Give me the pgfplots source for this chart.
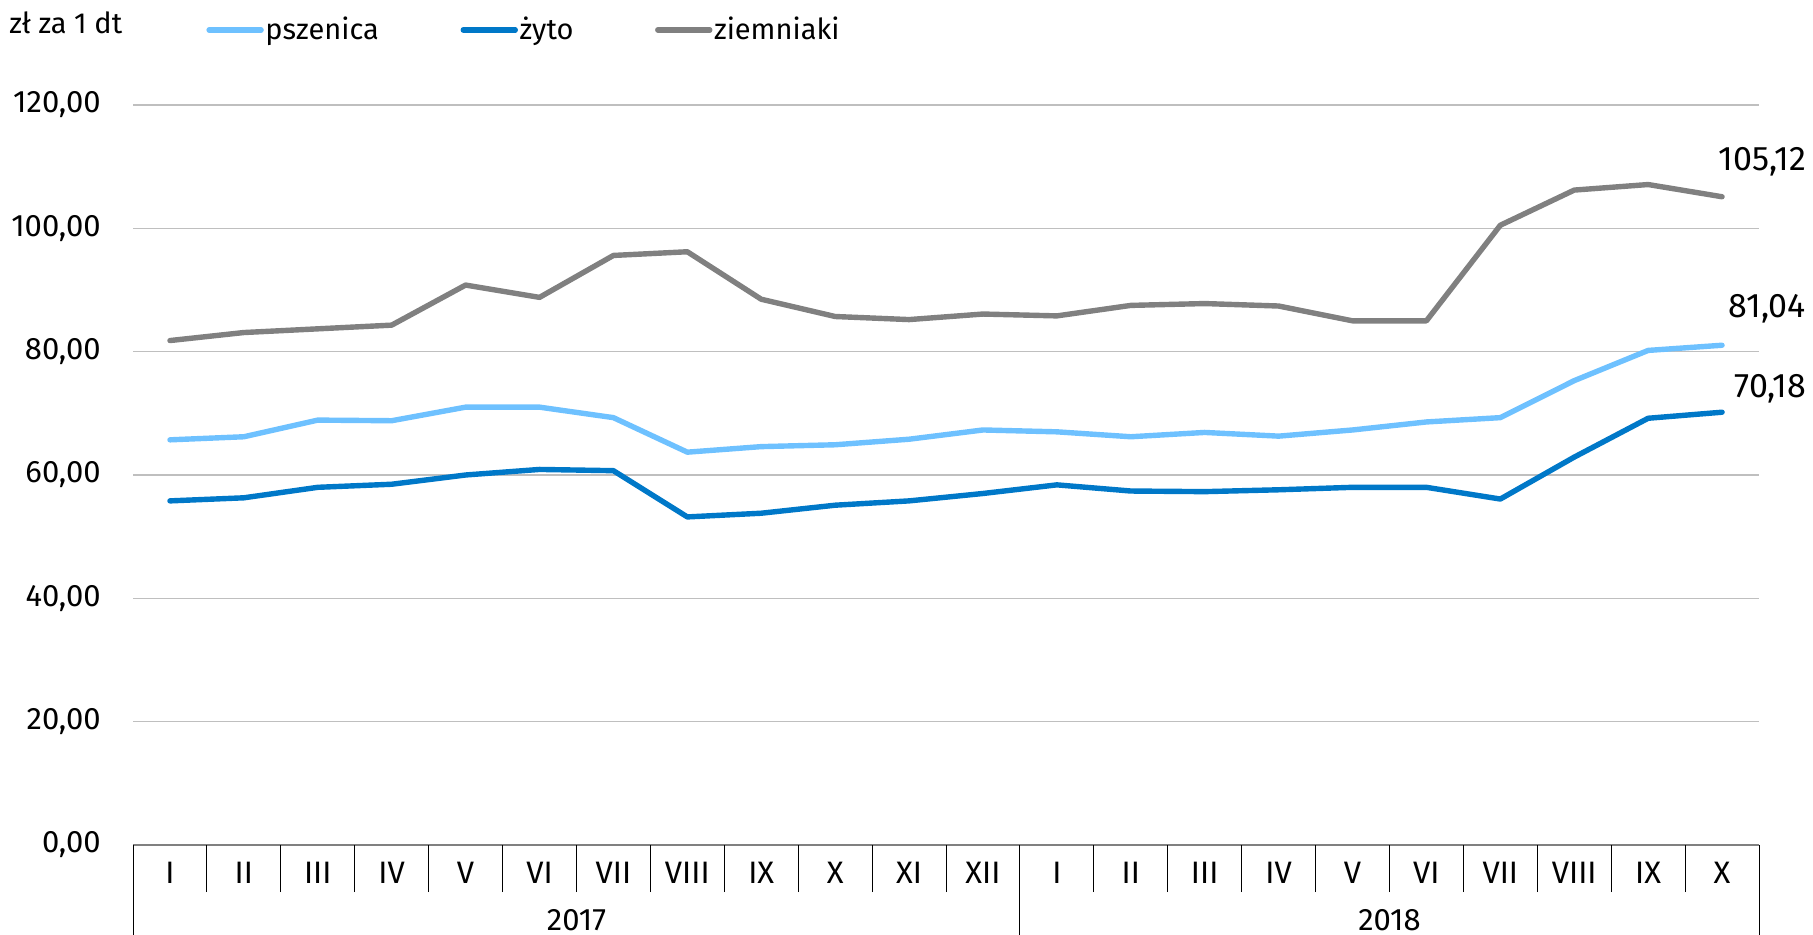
\documentclass[border=0pt]{standalone}
\usepackage{fontspec}
\setmainfont{Fira Sans}
\usepackage{pgfplots}
\pgfplotsset{compat=1.18}
\definecolor{psz}{HTML}{6EC1FF}
\definecolor{zyto}{HTML}{0078C8}
\definecolor{ziem}{HTML}{808080}
\definecolor{gridc}{HTML}{BFBFBF}
\newcommand{\fs}{\fontsize{15.5}{18}\selectfont}
\newcommand{\fg}{\fontsize{14.5}{17}\selectfont}
\newcommand{\fl}{\fontsize{17}{20}\selectfont}
\begin{document}
\begin{tikzpicture}
\useasboundingbox (0,0) rectangle (906.5pt,467.5pt);
\begin{axis}[
  at={(66.5pt,45pt)}, anchor=south west,
  scale only axis, width=813pt, height=370pt,
  xmin=-0.5, xmax=21.5, ymin=0, ymax=120,
  clip=false,
  axis x line*=bottom, axis y line*=left,
  x axis line style={draw=gray, line width=0.8pt},
  y axis line style={draw=none},
  ytick={0,20,...,120},
  ymajorgrids, grid style={gridc, line width=0.8pt},
  major tick length=0pt,
  yticklabel={\pgfmathprintnumber[fixed,fixed zerofill,precision=2,use comma,assume math mode=true]{\tick}},
  yticklabel style={anchor=east, inner sep=0pt, xshift=-16pt, font=\fs},
  xtick={0,...,21},
  xticklabels={I,II,III,IV,V,VI,VII,VIII,IX,X,XI,XII,I,II,III,IV,V,VI,VII,VIII,IX,X},
  xticklabel style={anchor=center, yshift=-13.75pt, font=\fs},
  extra x ticks={-0.5,0.5,...,21.5},
  extra x tick labels={},
  extra x tick style={major tick length=23.5pt, tick align=outside, tick style={black, line width=0.5pt}},
  legend image code/.code={\draw[#1, line cap=round] (0pt,0pt) -- (26pt,0pt);},
  legend style={at={(axis description cs:0,1)}, anchor=west, xshift=36.5pt, yshift=37.5pt,
    draw=none, fill=none, inner sep=0pt, font=\fg, legend columns=-1,
    /tikz/every even column/.append style={column sep=40pt},
    nodes={inner sep=0.8pt}},
]
\addplot[psz, line width=2.7pt, line cap=round, line join=round] coordinates {
(0,65.7)(1,66.2)(2,68.9)(3,68.8)(4,71.0)(5,71.0)(6,69.3)(7,63.7)(8,64.6)(9,64.9)(10,65.8)
(11,67.3)(12,67.0)(13,66.2)(14,66.9)(15,66.3)(16,67.3)(17,68.6)(18,69.3)(19,75.3)(20,80.2)(21,81.04)};
\addlegendentry{pszenica}
\addplot[zyto, line width=2.7pt, line cap=round, line join=round] coordinates {
(0,55.8)(1,56.3)(2,58.0)(3,58.5)(4,60.0)(5,60.9)(6,60.7)(7,53.2)(8,53.8)(9,55.1)(10,55.8)
(11,57.0)(12,58.4)(13,57.4)(14,57.3)(15,57.6)(16,58.0)(17,58.0)(18,56.1)(19,62.9)(20,69.2)(21,70.18)};
\addlegendentry{żyto}
\addplot[ziem, line width=2.7pt, line cap=round, line join=round] coordinates {
(0,81.8)(1,83.1)(2,83.7)(3,84.3)(4,90.8)(5,88.8)(6,95.6)(7,96.2)(8,88.5)(9,85.7)(10,85.2)
(11,86.1)(12,85.8)(13,87.5)(14,87.8)(15,87.4)(16,85.0)(17,85.0)(18,100.5)(19,106.2)(20,107.1)(21,105.12)};
\addlegendentry{ziemniaki}
\draw[black, line width=0.5pt] (axis cs:-0.5,0) -- ([yshift=-46pt]axis cs:-0.5,0);
\draw[black, line width=0.5pt] (axis cs:11.5,0) -- ([yshift=-46pt]axis cs:11.5,0);
\draw[black, line width=0.5pt] (axis cs:21.5,0) -- ([yshift=-46pt]axis cs:21.5,0);
\node[font=\fs] at ([yshift=-37.5pt]axis cs:5.5,0) {2017};
\node[font=\fs] at ([yshift=-37.5pt]axis cs:16.5,0) {2018};
\node[font=\fg, anchor=base west, inner sep=0pt] at ([xshift=-62pt, yshift=35.5pt]axis description cs:0,1) {zł za 1 dt};
\node[font=\fl, anchor=base east, inner sep=0pt] at (axis cs:22.14,109.45) {105,12};
\node[font=\fl, anchor=base east, inner sep=0pt] at (axis cs:22.14,85.6) {81,04};
\node[font=\fl, anchor=base east, inner sep=0pt] at (axis cs:22.14,72.6) {70,18};
\end{axis}
\end{tikzpicture}
\end{document}
